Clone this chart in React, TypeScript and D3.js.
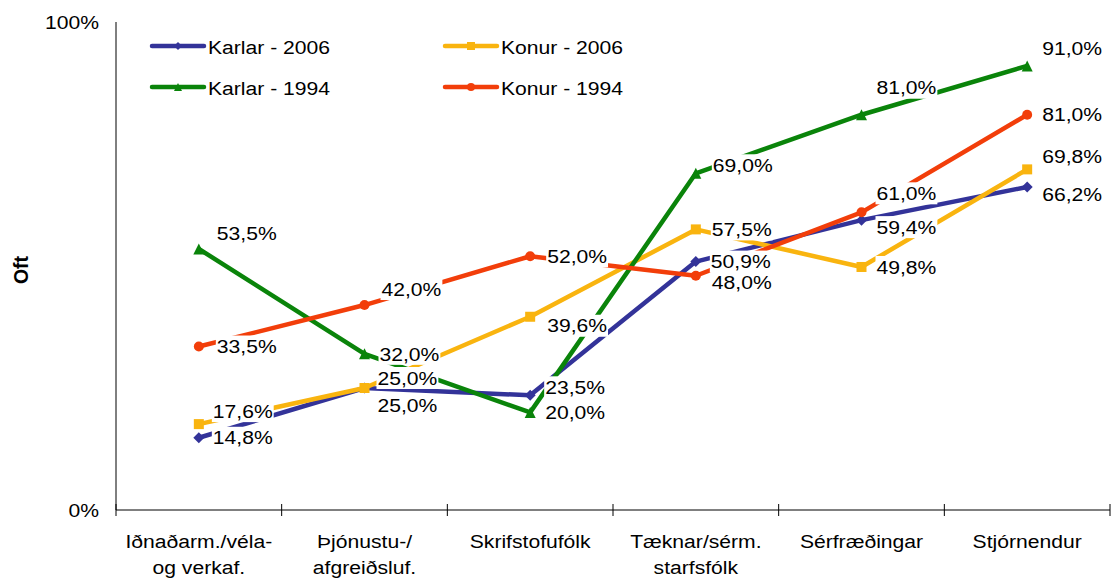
import React, { useEffect, useRef } from "react";
import * as d3 from "d3";

const categories: string[][] = [
  ["Iðnaðarm./véla-", "og verkaf."],
  ["Þjónustu-/", "afgreiðsluf."],
  ["Skrifstofufólk"],
  ["Tæknar/sérm.", "starfsfólk"],
  ["Sérfræðingar"],
  ["Stjórnendur"],
];
const karlar2006 = [14.8, 25.0, 23.5, 50.9, 59.4, 66.2];
const konur2006 = [17.6, 25.0, 39.6, 57.5, 49.8, 69.8];
const karlar1994 = [53.5, 32.0, 20.0, 69.0, 81.0, 91.0];
const konur1994 = [33.5, 42.0, 52.0, 48.0, 61.0, 81.0];
const yTickValues = [0, 100];
const yTitle = "Oft";

type Series = { name: string; values: number[]; color: string; marker: string };
const series: Series[] = [
  { name: "Karlar - 2006", values: karlar2006, color: "#333399", marker: "diamond" },
  { name: "Konur - 2006", values: konur2006, color: "#F9B40F", marker: "square" },
  { name: "Karlar - 1994", values: karlar1994, color: "#0A840A", marker: "triangle" },
  { name: "Konur - 1994", values: konur1994, color: "#F23E0A", marker: "circle" },
];

// label placement (layout only): [dx, dy] from the point
const labelPlacement: Record<string, number[][]> = {
  "Karlar - 2006": [[14, 0], [13, 17], [15, -8], [15, 0], [15, 7], [15, 7]],
  "Konur - 2006": [[14, -13], [13, -10], [17, 9], [16, 0], [15, 0], [15, -13]],
  "Karlar - 1994": [[18, -16], [15, 0], [15, 0], [17, -8], [15, -27], [15, -18]],
  "Konur - 1994": [[18, 0], [17, -16], [17, 0], [16, 7], [15, -19], [15, 0]],
};

const W = 1111;
const H = 578;
const FS = 19.2;
const SX = 1.1;
const FONT = "'Liberation Sans', Arial, sans-serif";

export default function App() {
  const ref = useRef<SVGSVGElement | null>(null);

  useEffect(() => {
    const svg = d3.select(ref.current!);
    svg.selectAll("*").remove();

    const x = d3.scaleBand<number>().domain(d3.range(categories.length)).range([116, 1110]).padding(0);
    const y = d3.scaleLinear().domain([0, 100]).range([510, 22]);
    const cx = (i: number) => (x(i) as number) + x.bandwidth() / 2;

    const g = svg.append("g");

    // axes
    g.append("line").attr("x1", 116).attr("x2", 116).attr("y1", y(100)).attr("y2", y(0)).attr("stroke", "#000").attr("stroke-width", 1);
    g.append("line").attr("x1", 116).attr("x2", 1110).attr("y1", y(0)).attr("y2", y(0)).attr("stroke", "#000").attr("stroke-width", 1);
    const bounds = d3.range(categories.length + 1).map((i) => (i < categories.length ? (x(i) as number) : 1110));
    bounds.forEach((bx) => {
      g.append("line").attr("x1", bx).attr("x2", bx).attr("y1", y(0) - 6).attr("y2", y(0) + 6).attr("stroke", "#000");
    });
    yTickValues.forEach((v) => {
      g.append("text")
        .attr("transform", `translate(99,${y(v) + FS * 0.35}) scale(${SX},1)`)
        .attr("text-anchor", "end")
        .attr("font-family", FONT)
        .attr("font-size", FS)
        .text(`${v}%`);
    });

    categories.forEach((lines, i) => {
      lines.forEach((ln, k) => {
        g.append("text")
          .attr("transform", `translate(${cx(i)},${548 + k * 26}) scale(${SX},1)`)
          .attr("text-anchor", "middle")
          .attr("font-family", FONT)
          .attr("font-size", FS)
          .text(ln);
      });
    });

    g.append("text")
      .attr("transform", `translate(${28},${270}) rotate(-90)`)
      .attr("text-anchor", "middle")
      .attr("font-family", FONT)
      .attr("font-size", 19.5)
      .attr("font-weight", "bold")
      .text(yTitle);

    const drawMarker = (sel: any, kind: string, px: number, py: number, color: string, s: number) => {
      if (kind === "diamond") {
        sel.append("path").attr("d", `M${px},${py - s / 2}L${px + s / 2},${py}L${px},${py + s / 2}L${px - s / 2},${py}Z`).attr("fill", color);
      } else if (kind === "square") {
        sel.append("rect").attr("x", px - s / 2).attr("y", py - s / 2).attr("width", s).attr("height", s).attr("fill", color);
      } else if (kind === "triangle") {
        sel.append("path").attr("d", `M${px},${py - s / 2}L${px + s / 2},${py + s / 2}L${px - s / 2},${py + s / 2}Z`).attr("fill", color);
      } else {
        sel.append("circle").attr("cx", px).attr("cy", py).attr("r", s / 2).attr("fill", color);
      }
    };

    const line = d3.line<number>().x((_, i) => cx(i)).y((d) => y(d));
    const markerSize: Record<string, number> = { diamond: 11, square: 10, triangle: 11, circle: 10 };

    series.forEach((s) => {
      const sg = g.append("g");
      sg.append("path").attr("d", line(s.values)!).attr("fill", "none").attr("stroke", s.color).attr("stroke-width", 4.5).attr("stroke-linejoin", "round");
      s.values.forEach((v, i) => drawMarker(sg, s.marker, cx(i), y(v), s.color, markerSize[s.marker]));
    });

    // data labels on top
    const lg = g.append("g");
    series.forEach((s) => {
      s.values.forEach((v, i) => {
        const [dx, dy] = labelPlacement[s.name][i];
        const tx = cx(i) + dx;
        const ty = y(v) + dy;
        const lab = d3.format(".1f")(v).replace(".", ",") + "%";
        const rect = lg.append("rect").attr("fill", "#fff");
        const t = lg.append("text")
          .attr("transform", `translate(${tx},${ty + FS * 0.35}) scale(${SX},1)`)
          .attr("font-family", FONT)
          .attr("font-size", FS)
          .attr("fill", "#000")
          .text(lab);
        const w = (t.node() as SVGTextElement).getComputedTextLength() * SX;
        rect.attr("x", tx - 1).attr("y", ty - 11).attr("width", w + 2).attr("height", 22);
      });
    });

    // legend
    const legendPos = [
      { lx: 152, ty: 46 },
      { lx: 445, ty: 46 },
      { lx: 152, ty: 87 },
      { lx: 445, ty: 87 },
    ];
    const leg = g.append("g");
    series.forEach((s, k) => {
      const p = legendPos[k];
      leg.append("line").attr("x1", p.lx).attr("x2", p.lx + 52).attr("y1", p.ty).attr("y2", p.ty).attr("stroke", s.color).attr("stroke-width", 4.5).attr("stroke-linecap", "round");
      drawMarker(leg, s.marker, p.lx + 26, p.ty, s.color, 8);
      leg.append("text")
        .attr("transform", `translate(${p.lx + 56},${p.ty + FS * 0.35 + 1}) scale(${SX},1)`)
        .attr("font-family", FONT)
        .attr("font-size", FS)
        .text(s.name);
    });
  }, []);

  return (
    <svg ref={ref} width={W} height={H} style={{ position: "absolute", left: 0, top: 0, background: "#fff" }} />
  );
}
